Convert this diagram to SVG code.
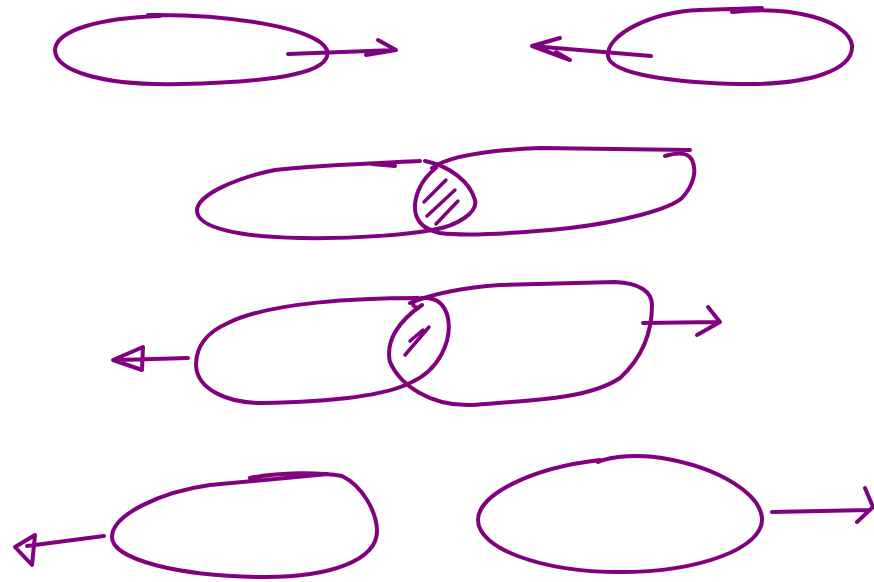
<svg xmlns="http://www.w3.org/2000/svg" width="874" height="582" viewBox="0 0 874 582">
<style>
.s{fill:none;stroke:#800080;stroke-width:4;stroke-linecap:round;stroke-linejoin:round}
.h{fill:none;stroke:#800080;stroke-width:3.5;stroke-linecap:round}
</style>
<rect width="874" height="582" fill="#fff"/>
<g id="node-top-left"><path class="s" d="M148,15 C230,14 318,28 327,50 C333,72 280,82 180,84 C100,86 55,70 55,50 C56,30 100,18 160,16"/></g>
<g id="node-top-right"><path class="s" d="M732,12 C790,5 848,20 852,45 C854,70 810,85 740,84 C680,83 610,75 608,56 C606,35 650,12 700,10 L762,8"/></g>
<g id="node-mid1-left"><path class="s" d="M420,161 C380,163 320,165 275,170 C235,178 198,195 197,210 C196,228 240,237 300,238 C360,239 410,234 432,230 C458,226 478,212 475,200 C470,182 450,166 425,161 M372,164 L395,166"/></g>
<g id="node-mid1-right"><path class="s" d="M436,168 C420,180 412,200 416,215 C420,226 428,230 440,233 C470,237 520,233 570,228 C620,222 668,210 682,198 C694,185 697,170 692,160 C688,152 678,152 665,156 M432,168 C450,155 490,150 540,148 L690,150"/><path class="h" d="M424,202 L446,180 M427,216 L455,190 M436,224 L458,201"/></g>
<g id="node-mid2-left"><path class="s" d="M418,298 C360,298 270,302 228,323 C205,333 196,348 196,365 C197,390 228,403 262,403 C320,402 380,398 410,383 C440,370 452,340 448,318 C445,304 436,297 422,298 C412,300 410,306 418,308"/></g>
<g id="node-mid2-right"><path class="s" d="M410,303 C440,291 470,287 500,285 L615,282 C640,283 652,292 652,305 C652,330 645,355 620,378 C590,398 540,400 470,405 C430,406 400,385 390,362 C385,340 400,320 422,305"/><path class="h" d="M405,355 L429,327 M410,341 L423,330"/></g>
<g id="node-bottom-left"><path class="s" d="M250,478 C280,472 320,472 342,476 C362,486 376,510 377,530 C378,560 330,578 260,577 C180,576 112,560 112,537 C112,515 160,492 210,485 L328,474"/></g>
<g id="node-bottom-right"><path class="s" d="M598,462 C612,456 640,454 662,458 C722,468 760,495 762,518 C764,548 700,572 620,572 C540,572 478,548 478,520 C478,495 530,468 600,460"/></g>
<g id="connectors">
<path class="s" d="M288,54 L396,50 M378,40 L396,50 L366,55"/>
<path class="s" d="M651,56 L532,46 M560,38 L532,46 L570,60 L556,52"/>
<path class="s" d="M188,358 L118,360 M113,360 L143,347 L142,370 Z"/>
<path class="s" d="M643,323 L718,322 M708,307 L720,322 L697,335"/>
<path class="s" d="M104,536 L27,546 M15,547 L35,535 L32,565 Z"/>
<path class="s" d="M772,512 L870,510 M865,488 L873,507 L857,522"/>
</g>
</svg>
